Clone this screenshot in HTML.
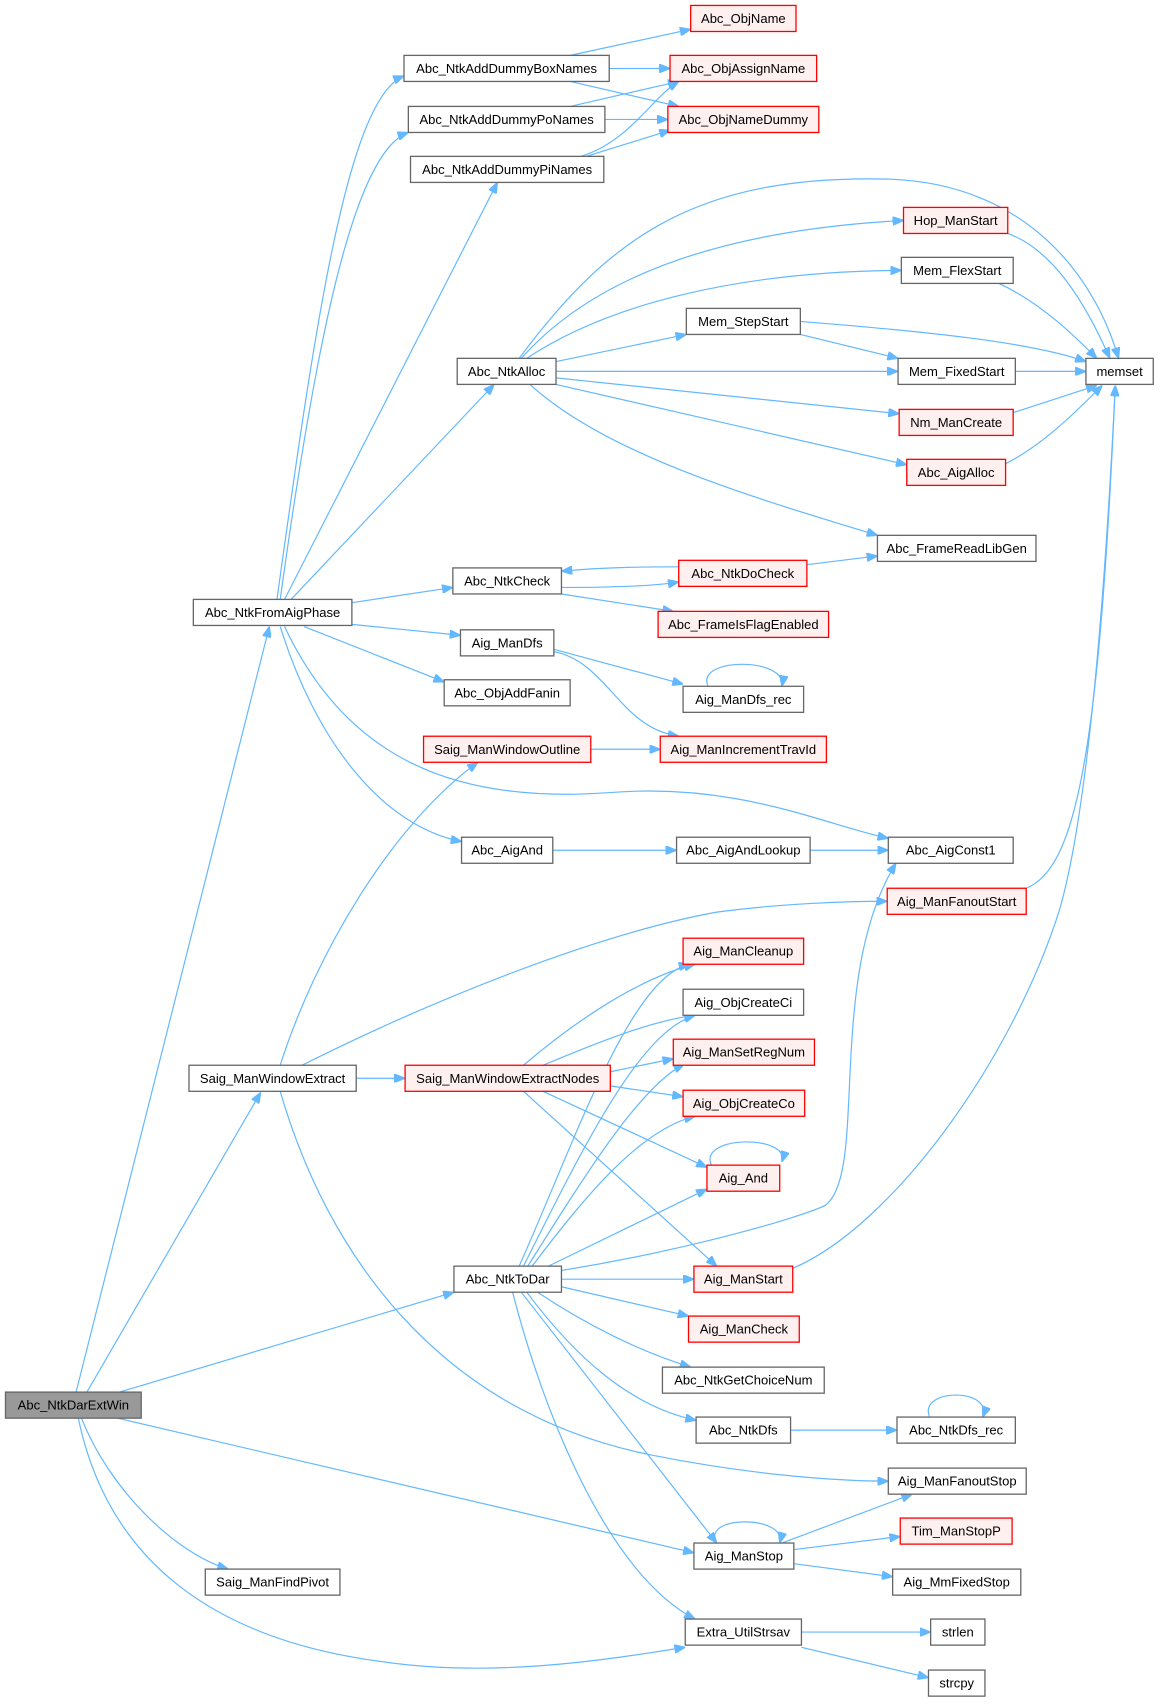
<!DOCTYPE html>
<html><head><meta charset="utf-8"><style>
html,body{margin:0;padding:0;background:#fff;}
svg{display:block}
text{font-family:"Liberation Sans",Arial,sans-serif;font-size:12px;fill:#000;text-anchor:middle;dominant-baseline:central}
.n{fill:#fff;stroke:#666;stroke-width:1.2}
.r{fill:#fff0f0;stroke:#f00;stroke-width:1.2}
.g{fill:#999;stroke:#666;stroke-width:1.2}
path{fill:none;stroke:#63b8ff;stroke-width:1.1}
</style></head><body>
<svg width="1162" height="1707" viewBox="0 0 1070 1572" xmlns="http://www.w3.org/2000/svg">
<defs><marker id="a" viewBox="0 0 10 8" refX="10" refY="4" markerWidth="10" markerHeight="8" markerUnits="userSpaceOnUse" orient="auto"><path d="M0,0 L10,4 L0,8 Z" style="fill:#63b8ff;stroke:#63b8ff"/></marker></defs>
<g marker-end="url(#a)">
<path d="M70,1282 L248,577"/>
<path d="M80,1282 L240,1006"/>
<path d="M110,1282 L418,1190"/>
<path d="M75,1306 C100,1370 160,1430 210,1445"/>
<path d="M108,1306 L639,1430"/>
<path d="M72,1306 C100,1440 200,1510 350,1530 C450,1545 550,1530 631,1517"/>
<path d="M255,552 C290,300 320,90 372,70"/>
<path d="M258,552 C290,320 325,140 376,122"/>
<path d="M262,552 L458,168"/>
<path d="M268,552 L455,354"/>
<path d="M324,555 L417,541"/>
<path d="M324,575 L424,585"/>
<path d="M280,577 L409,628"/>
<path d="M258,577 C290,680 350,760 425,775"/>
<path d="M262,577 C320,700 420,740 560,730 C680,720 760,760 818,772"/>
<path d="M525,51 L636,27"/>
<path d="M561,63 L617,63"/>
<path d="M525,75 L625,98"/>
<path d="M525,98 L625,75"/>
<path d="M557,110 L615,110"/>
<path d="M535,144 C580,130 600,90 625,75"/>
<path d="M540,144 L617,120"/>
<path d="M478,330 C560,220 640,160 820,165 C950,170 1010,260 1030,330"/>
<path d="M480,330 C560,240 700,210 832,203"/>
<path d="M485,330 C560,280 680,250 830,249"/>
<path d="M512,333 L632,308"/>
<path d="M512,342 L827,342"/>
<path d="M512,348 L828,381"/>
<path d="M512,354 L835,428"/>
<path d="M488,354 C560,420 700,460 808,493"/>
<path d="M737,296 C850,305 950,315 1000,333"/>
<path d="M737,308 L827,330"/>
<path d="M928,215 C970,230 1000,280 1022,330"/>
<path d="M920,261 C960,280 990,310 1010,330"/>
<path d="M935,342 L1000,342"/>
<path d="M933,380 L1010,355"/>
<path d="M926,427 C960,410 990,380 1015,355"/>
<path d="M517,541 C560,541 600,540 625,536"/>
<path d="M625,522 C600,522 560,522 517,526"/>
<path d="M517,547 L620,563"/>
<path d="M743,520 L808,512"/>
<path d="M510,598 L629,630"/>
<path d="M510,600 C560,610 570,670 625,678"/>
<path d="M652,632 C640,605 725,605 720,632"/>
<path d="M544,690 L608,690"/>
<path d="M509,783 L623,783"/>
<path d="M746,783 L818,783"/>
<path d="M258,981 C290,880 360,760 440,702"/>
<path d="M278,981 C400,920 550,860 660,840 C720,832 780,830 817,830"/>
<path d="M328,993 L373,993"/>
<path d="M258,1005 C300,1150 400,1300 600,1340 C700,1360 780,1364 818,1364"/>
<path d="M945,818 C990,800 1012,700 1027,355"/>
<path d="M482,981 C530,940 590,900 640,888"/>
<path d="M500,981 C550,960 600,940 640,935"/>
<path d="M562,987 L620,975"/>
<path d="M562,1000 L629,1010"/>
<path d="M500,1005 L651,1075"/>
<path d="M482,1005 L660,1166"/>
<path d="M655,1073 C643,1045 728,1045 720,1070"/>
<path d="M478,1166 C530,1050 580,900 635,888"/>
<path d="M482,1166 C540,1050 590,950 640,935"/>
<path d="M486,1166 C540,1080 590,1000 630,980"/>
<path d="M490,1166 C540,1100 590,1040 640,1028"/>
<path d="M505,1166 L651,1095"/>
<path d="M517,1170 C640,1150 740,1120 760,1110 C800,1080 760,900 825,795"/>
<path d="M517,1178 L639,1178"/>
<path d="M517,1185 L634,1212"/>
<path d="M495,1190 C540,1220 590,1245 636,1259"/>
<path d="M485,1190 C530,1250 580,1295 641,1308"/>
<path d="M480,1190 C550,1280 620,1370 660,1421"/>
<path d="M472,1190 C500,1300 560,1450 640,1491"/>
<path d="M730,1168 C820,1130 930,980 975,840 C1005,740 1020,500 1027,355"/>
<path d="M728,1317 L826,1317"/>
<path d="M856,1305 C845,1278 915,1278 905,1305"/>
<path d="M660,1421 C645,1395 725,1395 718,1421"/>
<path d="M720,1421 L840,1376"/>
<path d="M731,1427 L829,1415"/>
<path d="M731,1440 L822,1452"/>
<path d="M738,1503 L857,1503"/>
<path d="M738,1517 L855,1545"/>
</g>
<g>
<rect class="g" x="5" y="1282" width="125" height="24"/><text x="67.5" y="1294">Abc_NtkDarExtWin</text>
<rect class="n" x="178" y="552" width="146" height="24"/><text x="251" y="564">Abc_NtkFromAigPhase</text>
<rect class="n" x="174" y="981" width="154" height="24"/><text x="251" y="993">Saig_ManWindowExtract</text>
<rect class="n" x="189" y="1445" width="124" height="24"/><text x="251" y="1457">Saig_ManFindPivot</text>
<rect class="n" x="372" y="51" width="189" height="24"/><text x="466.5" y="63">Abc_NtkAddDummyBoxNames</text>
<rect class="n" x="376" y="98" width="181" height="24"/><text x="466.5" y="110">Abc_NtkAddDummyPoNames</text>
<rect class="n" x="378" y="144" width="178" height="24"/><text x="467" y="156">Abc_NtkAddDummyPiNames</text>
<rect class="n" x="421" y="330" width="91" height="24"/><text x="466.5" y="342">Abc_NtkAlloc</text>
<rect class="n" x="417" y="523" width="100" height="24"/><text x="467" y="535">Abc_NtkCheck</text>
<rect class="n" x="424" y="580" width="86" height="24"/><text x="467" y="592">Aig_ManDfs</text>
<rect class="n" x="409" y="626" width="116" height="24"/><text x="467" y="638">Abc_ObjAddFanin</text>
<rect class="r" x="390" y="678" width="154" height="24"/><text x="467" y="690">Saig_ManWindowOutline</text>
<rect class="n" x="425" y="771" width="84" height="24"/><text x="467" y="783">Abc_AigAnd</text>
<rect class="r" x="373" y="981" width="189" height="24"/><text x="467.5" y="993">Saig_ManWindowExtractNodes</text>
<rect class="n" x="418" y="1166" width="99" height="24"/><text x="467.5" y="1178">Abc_NtkToDar</text>
<rect class="r" x="636" y="5" width="97" height="24"/><text x="684.5" y="17">Abc_ObjName</text>
<rect class="r" x="617" y="51" width="135" height="24"/><text x="684.5" y="63">Abc_ObjAssignName</text>
<rect class="r" x="615" y="98" width="139" height="24"/><text x="684.5" y="110">Abc_ObjNameDummy</text>
<rect class="n" x="632" y="284" width="105" height="24"/><text x="684.5" y="296">Mem_StepStart</text>
<rect class="r" x="625" y="516" width="118" height="24"/><text x="684" y="528">Abc_NtkDoCheck</text>
<rect class="r" x="606" y="563" width="157" height="24"/><text x="684.5" y="575">Abc_FrameIsFlagEnabled</text>
<rect class="n" x="629" y="632" width="111" height="24"/><text x="684.5" y="644">Aig_ManDfs_rec</text>
<rect class="r" x="608" y="678" width="153" height="24"/><text x="684.5" y="690">Aig_ManIncrementTravId</text>
<rect class="n" x="623" y="771" width="123" height="24"/><text x="684.5" y="783">Abc_AigAndLookup</text>
<rect class="r" x="629" y="864" width="111" height="24"/><text x="684.5" y="876">Aig_ManCleanup</text>
<rect class="n" x="629" y="911" width="111" height="24"/><text x="684.5" y="923">Aig_ObjCreateCi</text>
<rect class="r" x="620" y="957" width="130" height="24"/><text x="685" y="969">Aig_ManSetRegNum</text>
<rect class="r" x="629" y="1004" width="112" height="24"/><text x="685" y="1016">Aig_ObjCreateCo</text>
<rect class="r" x="651" y="1073" width="67" height="24"/><text x="684.5" y="1085">Aig_And</text>
<rect class="r" x="639" y="1166" width="91" height="24"/><text x="684.5" y="1178">Aig_ManStart</text>
<rect class="r" x="634" y="1212" width="102" height="24"/><text x="685" y="1224">Aig_ManCheck</text>
<rect class="n" x="610" y="1259" width="149" height="24"/><text x="684.5" y="1271">Abc_NtkGetChoiceNum</text>
<rect class="n" x="641" y="1305" width="87" height="24"/><text x="684.5" y="1317">Abc_NtkDfs</text>
<rect class="n" x="639" y="1421" width="92" height="24"/><text x="685" y="1433">Aig_ManStop</text>
<rect class="n" x="631" y="1491" width="107" height="24"/><text x="684.5" y="1503">Extra_UtilStrsav</text>
<rect class="r" x="832" y="191" width="96" height="24"/><text x="880" y="203">Hop_ManStart</text>
<rect class="n" x="830" y="237" width="103" height="24"/><text x="881.5" y="249">Mem_FlexStart</text>
<rect class="n" x="827" y="330" width="108" height="24"/><text x="881" y="342">Mem_FixedStart</text>
<rect class="r" x="828" y="377" width="105" height="24"/><text x="880.5" y="389">Nm_ManCreate</text>
<rect class="r" x="835" y="423" width="91" height="24"/><text x="880.5" y="435">Abc_AigAlloc</text>
<rect class="n" x="808" y="493" width="146" height="24"/><text x="881" y="505">Abc_FrameReadLibGen</text>
<rect class="n" x="818" y="771" width="115" height="24"/><text x="875.5" y="783">Abc_AigConst1</text>
<rect class="r" x="817" y="818" width="128" height="24"/><text x="881" y="830">Aig_ManFanoutStart</text>
<rect class="n" x="826" y="1305" width="109" height="24"/><text x="880.5" y="1317">Abc_NtkDfs_rec</text>
<rect class="n" x="818" y="1352" width="127" height="24"/><text x="881.5" y="1364">Aig_ManFanoutStop</text>
<rect class="r" x="829" y="1398" width="103" height="24"/><text x="880.5" y="1410">Tim_ManStopP</text>
<rect class="n" x="822" y="1445" width="118" height="24"/><text x="881" y="1457">Aig_MmFixedStop</text>
<rect class="n" x="857" y="1491" width="50" height="24"/><text x="882" y="1503">strlen</text>
<rect class="n" x="855" y="1538" width="52" height="24"/><text x="881" y="1550">strcpy</text>
<rect class="n" x="1000" y="330" width="62" height="24"/><text x="1031" y="342">memset</text>
</g>
</svg>
</body></html>
